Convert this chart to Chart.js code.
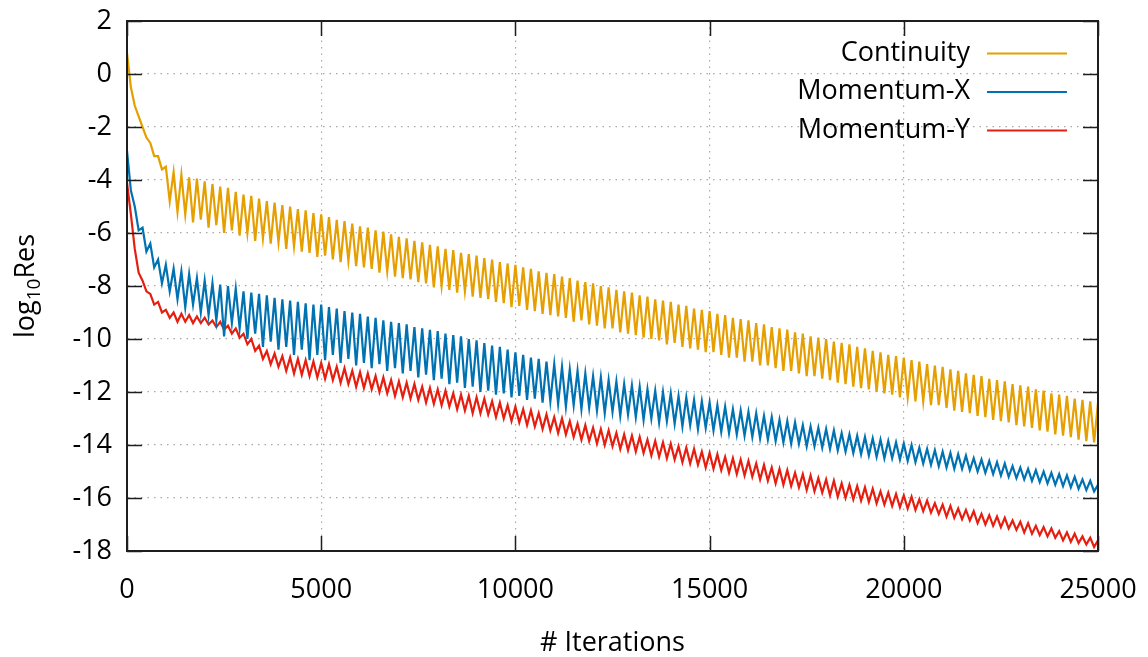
<!DOCTYPE html>
<html>
<head>
<title>Residuals</title>
<meta charset="utf-8">
<script src="https://cdn.jsdelivr.net/npm/chart.js@4.4.1/dist/chart.umd.min.js"></script>
<style>
  html, body { margin: 0; padding: 0; background: #ffffff; }
  #box { width: 1148px; height: 657px; }
</style>
</head>
<body>
<div id="box"><canvas id="resCanvas" width="1148" height="657"></canvas></div>
<script>
// iteration numbers of the samples (every 100 iterations)
const iterations = [
  0, 100, 200, 300, 400, 500, 600, 700, 800, 900,
  1000, 1100, 1200, 1300, 1400, 1500, 1600, 1700, 1800, 1900,
  2000, 2100, 2200, 2300, 2400, 2500, 2600, 2700, 2800, 2900,
  3000, 3100, 3200, 3300, 3400, 3500, 3600, 3700, 3800, 3900,
  4000, 4100, 4200, 4300, 4400, 4500, 4600, 4700, 4800, 4900,
  5000, 5100, 5200, 5300, 5400, 5500, 5600, 5700, 5800, 5900,
  6000, 6100, 6200, 6300, 6400, 6500, 6600, 6700, 6800, 6900,
  7000, 7100, 7200, 7300, 7400, 7500, 7600, 7700, 7800, 7900,
  8000, 8100, 8200, 8300, 8400, 8500, 8600, 8700, 8800, 8900,
  9000, 9100, 9200, 9300, 9400, 9500, 9600, 9700, 9800, 9900,
  10000, 10100, 10200, 10300, 10400, 10500, 10600, 10700, 10800, 10900,
  11000, 11100, 11200, 11300, 11400, 11500, 11600, 11700, 11800, 11900,
  12000, 12100, 12200, 12300, 12400, 12500, 12600, 12700, 12800, 12900,
  13000, 13100, 13200, 13300, 13400, 13500, 13600, 13700, 13800, 13900,
  14000, 14100, 14200, 14300, 14400, 14500, 14600, 14700, 14800, 14900,
  15000, 15100, 15200, 15300, 15400, 15500, 15600, 15700, 15800, 15900,
  16000, 16100, 16200, 16300, 16400, 16500, 16600, 16700, 16800, 16900,
  17000, 17100, 17200, 17300, 17400, 17500, 17600, 17700, 17800, 17900,
  18000, 18100, 18200, 18300, 18400, 18500, 18600, 18700, 18800, 18900,
  19000, 19100, 19200, 19300, 19400, 19500, 19600, 19700, 19800, 19900,
  20000, 20100, 20200, 20300, 20400, 20500, 20600, 20700, 20800, 20900,
  21000, 21100, 21200, 21300, 21400, 21500, 21600, 21700, 21800, 21900,
  22000, 22100, 22200, 22300, 22400, 22500, 22600, 22700, 22800, 22900,
  23000, 23100, 23200, 23300, 23400, 23500, 23600, 23700, 23800, 23900,
  24000, 24100, 24200, 24300, 24400, 24500, 24600, 24700, 24800, 24900,
  25000
];

// log10 of residuals (peaks and dips alternate)
const continuity = [
  0.8, -0.5, -1.2, -1.6, -2.0, -2.4, -2.6, -3.1, -3.1, -3.6,
  -3.5, -4.8, -3.7, -5.2, -3.8, -5.3, -3.9, -5.6, -3.95, -5.5,
  -4.05, -5.8, -4.15, -5.7, -4.25, -6.0, -4.3, -5.9, -4.45, -6.1,
  -4.55, -6.0, -4.6, -6.3, -4.7, -6.2, -4.8, -6.4, -4.85, -6.35,
  -4.95, -6.6, -5.0, -6.5, -5.1, -6.7, -5.15, -6.75, -5.25, -6.9,
  -5.3, -6.85, -5.4, -7.0, -5.5, -7.1, -5.55, -7.05, -5.65, -7.25,
  -5.75, -7.3, -5.8, -7.35, -5.9, -7.5, -5.95, -7.45, -6.05, -7.65,
  -6.15, -7.7, -6.2, -7.75, -6.3, -7.85, -6.35, -7.9, -6.45, -8.05,
  -6.5, -8.0, -6.6, -8.15, -6.65, -8.25, -6.75, -8.2, -6.8, -8.4,
  -6.85, -8.45, -6.95, -8.5, -7.0, -8.6, -7.1, -8.65, -7.15, -8.8,
  -7.2, -8.75, -7.3, -8.9, -7.35, -8.95, -7.45, -9.05, -7.5, -9.1,
  -7.55, -9.15, -7.65, -9.2, -7.7, -9.35, -7.8, -9.3, -7.85, -9.45,
  -7.9, -9.5, -8.0, -9.6, -8.05, -9.6, -8.15, -9.75, -8.2, -9.8,
  -8.25, -9.85, -8.35, -9.95, -8.4, -10.0, -8.5, -10.05, -8.55, -10.2,
  -8.6, -10.15, -8.7, -10.3, -8.75, -10.35, -8.85, -10.4, -8.9, -10.5,
  -8.95, -10.5, -9.05, -10.6, -9.1, -10.7, -9.2, -10.7, -9.25, -10.85,
  -9.3, -10.85, -9.4, -11.0, -9.45, -11.0, -9.55, -11.1, -9.6, -11.2,
  -9.65, -11.2, -9.75, -11.3, -9.8, -11.4, -9.9, -11.4, -9.95, -11.5,
  -10.0, -11.55, -10.1, -11.65, -10.15, -11.7, -10.2, -11.8, -10.3, -11.85,
  -10.35, -11.9, -10.45, -12.0, -10.5, -12.05, -10.6, -12.1, -10.65, -12.2,
  -10.7, -12.2, -10.8, -12.35, -10.85, -12.35, -10.95, -12.5, -11.0, -12.5,
  -11.05, -12.6, -11.15, -12.7, -11.2, -12.75, -11.3, -12.8, -11.35, -12.9,
  -11.4, -12.95, -11.5, -13.05, -11.55, -13.1, -11.6, -13.15, -11.7, -13.25,
  -11.75, -13.3, -11.8, -13.35, -11.9, -13.45, -11.95, -13.5, -12.05, -13.6,
  -12.1, -13.65, -12.15, -13.7, -12.25, -13.8, -12.3, -13.85, -12.35, -13.9,
  -12.4
];

const momentumX = [
  -2.9, -4.4, -5.0, -5.9, -5.8, -6.7, -6.4, -7.3, -7.0, -7.9,
  -7.2, -8.2, -7.35, -8.5, -7.45, -8.8, -7.55, -8.7, -7.7, -9.0,
  -7.8, -9.1, -7.9, -9.3, -7.95, -9.9, -8.0, -9.4, -8.1, -9.6,
  -8.2, -10.0, -8.25, -9.8, -8.3, -10.3, -8.35, -10.1, -8.45, -10.4,
  -8.5, -10.3, -8.55, -10.6, -8.6, -10.4, -8.65, -10.8, -8.7, -10.6,
  -8.7, -10.8, -8.8, -10.6, -8.85, -10.9, -8.95, -10.75, -9.0, -11.0,
  -9.05, -10.9, -9.15, -11.1, -9.2, -10.95, -9.3, -11.2, -9.35, -11.1,
  -9.4, -11.3, -9.45, -11.2, -9.55, -11.45, -9.6, -11.35, -9.65, -11.55,
  -9.7, -11.5, -9.8, -11.7, -9.85, -11.65, -9.9, -11.85, -10.0, -11.8,
  -10.05, -12.0, -10.15, -11.95, -10.25, -12.1, -10.3, -12.05, -10.4, -12.2,
  -10.5, -12.15, -10.6, -12.3, -10.7, -12.25, -10.75, -12.4, -10.85, -12.35,
  -10.95, -12.45, -11.05, -12.55, -11.15, -12.5, -11.2, -12.65, -11.3, -12.6,
  -11.4, -12.7, -11.45, -12.8, -11.55, -12.75, -11.6, -12.9, -11.7, -12.85,
  -11.75, -12.95, -11.8, -13.05, -11.9, -13.0, -11.95, -13.15, -12.0, -13.1,
  -12.05, -13.2, -12.15, -13.3, -12.2, -13.25, -12.3, -13.4, -12.35, -13.35,
  -12.4, -13.45, -12.5, -13.5, -12.55, -13.55, -12.65, -13.6, -12.7, -13.65,
  -12.75, -13.7, -12.8, -13.75, -12.9, -13.8, -12.95, -13.85, -13.05, -13.9,
  -13.1, -13.95, -13.15, -13.95, -13.25, -14.05, -13.3, -14.05, -13.35, -14.1,
  -13.4, -14.15, -13.45, -14.2, -13.55, -14.25, -13.6, -14.3, -13.65, -14.35,
  -13.7, -14.4, -13.75, -14.45, -13.8, -14.5, -13.85, -14.5, -13.9, -14.55,
  -13.95, -14.6, -14.0, -14.65, -14.1, -14.7, -14.15, -14.75, -14.2, -14.8,
  -14.25, -14.85, -14.3, -14.9, -14.35, -14.9, -14.4, -14.95, -14.5, -15.0,
  -14.55, -15.05, -14.6, -15.1, -14.65, -15.15, -14.7, -15.2, -14.8, -15.25,
  -14.85, -15.3, -14.9, -15.35, -14.95, -15.4, -15.0, -15.45, -15.05, -15.5,
  -15.1, -15.55, -15.15, -15.6, -15.2, -15.65, -15.3, -15.7, -15.35, -15.75,
  -15.5
];

const momentumY = [
  -4.1, -5.3, -6.6, -7.5, -7.8, -8.2, -8.3, -8.7, -8.6, -9.0,
  -8.9, -9.2, -9.0, -9.35, -9.05, -9.35, -9.1, -9.4, -9.15, -9.4,
  -9.2, -9.45, -9.3, -9.55, -9.35, -9.65, -9.5, -9.8, -9.6, -9.95,
  -9.8, -10.2, -10.0, -10.45, -10.25, -10.75, -10.45, -10.95, -10.55, -11.05,
  -10.65, -11.2, -10.7, -11.3, -10.75, -11.35, -10.8, -11.4, -10.85, -11.45,
  -10.9, -11.5, -10.95, -11.55, -11.05, -11.65, -11.1, -11.7, -11.2, -11.8,
  -11.25, -11.85, -11.3, -11.9, -11.4, -12.0, -11.45, -12.05, -11.55, -12.15,
  -11.6, -12.2, -11.65, -12.25, -11.7, -12.3, -11.8, -12.4, -11.85, -12.45,
  -11.9, -12.5, -11.95, -12.55, -12.05, -12.65, -12.1, -12.7, -12.15, -12.8,
  -12.2, -12.8, -12.25, -12.85, -12.35, -12.95, -12.4, -13.0, -12.5, -13.1,
  -12.55, -13.15, -12.65, -13.25, -12.7, -13.3, -12.8, -13.4, -12.85, -13.45,
  -12.95, -13.55, -13.0, -13.6, -13.1, -13.7, -13.2, -13.8, -13.25, -13.85,
  -13.35, -13.95, -13.4, -14.0, -13.45, -14.05, -13.55, -14.15, -13.6, -14.2,
  -13.65, -14.25, -13.7, -14.3, -13.8, -14.4, -13.85, -14.45, -13.9, -14.5,
  -13.95, -14.55, -14.05, -14.65, -14.1, -14.7, -14.15, -14.75, -14.25, -14.85,
  -14.3, -14.9, -14.35, -14.95, -14.45, -15.05, -14.5, -15.1, -14.55, -15.15,
  -14.6, -15.2, -14.7, -15.3, -14.75, -15.35, -14.85, -15.45, -14.9, -15.5,
  -14.95, -15.55, -15.05, -15.6, -15.1, -15.7, -15.15, -15.75, -15.25, -15.8,
  -15.3, -15.9, -15.35, -15.95, -15.45, -16.0, -15.5, -16.05, -15.55, -16.1,
  -15.6, -16.15, -15.65, -16.2, -15.75, -16.25, -15.8, -16.3, -15.85, -16.35,
  -15.9, -16.4, -15.95, -16.45, -16.05, -16.5, -16.1, -16.55, -16.2, -16.6,
  -16.25, -16.7, -16.3, -16.75, -16.4, -16.8, -16.45, -16.85, -16.5, -16.95,
  -16.6, -17.0, -16.65, -17.05, -16.7, -17.1, -16.75, -17.15, -16.85, -17.2,
  -16.9, -17.3, -16.95, -17.35, -17.05, -17.4, -17.1, -17.45, -17.15, -17.5,
  -17.25, -17.6, -17.3, -17.65, -17.35, -17.7, -17.45, -17.75, -17.5, -17.85,
  -17.6
];

const seriesNames = ['Continuity', 'Momentum-X', 'Momentum-Y'];
const seriesColors = ['#e69f00', '#0072b2', '#e51e10'];
const xTicks = [0, 5000, 10000, 15000, 20000, 25000];
const yTicks = [2, 0, -2, -4, -6, -8, -10, -12, -14, -16, -18];

const FONT = '"Open Sans", "Noto Sans", sans-serif';
const FONT_SIZE = 27;

function toPoints(values) {
  return values.map((v, i) => ({ x: iterations[i], y: v }));
}

// frame and inward ticks, gnuplot style
function drawFrame(chart) {
  const ctx = chart.ctx;
  const area = chart.chartArea;
  const xs = chart.scales.x;
  const ys = chart.scales.y;
  const tickLen = 15;

  ctx.save();
  ctx.setLineDash([]);
  ctx.globalAlpha = 1;
  ctx.globalCompositeOperation = 'source-over';
  ctx.strokeStyle = 'rgb(30,30,30)';
  ctx.lineWidth = 2;
  ctx.strokeRect(area.left, area.top, area.right - area.left, area.bottom - area.top);

  ctx.lineWidth = 1.5;
  ctx.beginPath();
  for (const t of yTicks) {
    const py = Math.round(ys.getPixelForValue(t)) + 0.5;
    ctx.moveTo(area.left, py);
    ctx.lineTo(area.left + tickLen, py);
    ctx.moveTo(area.right, py);
    ctx.lineTo(area.right - tickLen, py);
  }
  for (const t of xTicks) {
    const px = Math.round(xs.getPixelForValue(t)) + 0.5;
    ctx.moveTo(px, area.bottom);
    ctx.lineTo(px, area.bottom - tickLen);
    ctx.moveTo(px, area.top);
    ctx.lineTo(px, area.top + tickLen);
  }
  ctx.stroke();
  ctx.restore();
}

// key and axis titles
function drawTexts(chart) {
  const ctx = chart.ctx;
  const area = chart.chartArea;
  ctx.save();
  ctx.setLineDash([]);

  ctx.font = FONT_SIZE + 'px ' + FONT;
  ctx.textAlign = 'right';
  ctx.textBaseline = 'middle';
  chart.data.datasets.forEach((ds, i) => {
    const rowY = area.top + 32 + i * 38.5;
    ctx.fillStyle = '#000';
    ctx.fillText(ds.label, area.right - 128, rowY);
    ctx.strokeStyle = ds.borderColor;
    ctx.lineWidth = 2;
    ctx.beginPath();
    ctx.moveTo(area.right - 111, rowY + 0.5);
    ctx.lineTo(area.right - 31, rowY + 0.5);
    ctx.stroke();
  });

  ctx.fillStyle = '#000';
  ctx.textAlign = 'center';
  ctx.textBaseline = 'alphabetic';
  ctx.fillText('# Iterations', (area.left + area.right) / 2, 651);

  // log10Res, rotated, with a subscript
  ctx.translate(34, (area.top + area.bottom) / 2);
  ctx.rotate(-Math.PI / 2);
  const mainFont = FONT_SIZE + 'px ' + FONT;
  const subFont = '19px ' + FONT;
  ctx.font = mainFont;
  const w1 = ctx.measureText('log').width;
  const w3 = ctx.measureText('Res').width;
  ctx.font = subFont;
  const w2 = ctx.measureText('10').width;
  const x0 = -(w1 + w2 + w3) / 2;
  ctx.textAlign = 'left';
  ctx.font = mainFont;
  ctx.fillText('log', x0, 0);
  ctx.font = subFont;
  ctx.fillText('10', x0 + w1, 6);
  ctx.font = mainFont;
  ctx.fillText('Res', x0 + w1 + w2, 0);
  ctx.restore();
}

const gnuplotLook = {
  id: 'gnuplotLook',
  afterDraw(chart) {
    drawFrame(chart);
    drawTexts(chart);
  }
};

const ctxRes = document.getElementById('resCanvas').getContext('2d');

const chart = new Chart(ctxRes, {
  type: 'line',
  data: {
    datasets: [
      { label: seriesNames[0], data: toPoints(continuity), borderColor: seriesColors[0] },
      { label: seriesNames[1], data: toPoints(momentumX), borderColor: seriesColors[1] },
      { label: seriesNames[2], data: toPoints(momentumY), borderColor: seriesColors[2] }
    ]
  },
  options: {
    responsive: false,
    animation: false,
    parsing: false,
    normalized: true,
    datasets: {
      line: { borderWidth: 2.2, pointRadius: 0, tension: 0, fill: false }
    },
    layout: {
      autoPadding: false,
      padding: { top: 21, right: 50, left: 0, bottom: 0 }
    },
    plugins: {
      legend: { display: false },
      tooltip: { enabled: false }
    },
    scales: {
      x: {
        type: 'linear',
        min: 0,
        max: 25000,
        afterBuildTicks: (scale) => { scale.ticks = xTicks.map(v => ({ value: v })); },
        afterFit: (scale) => {
          scale.height = 106;
          scale.paddingLeft = 0;
          scale.paddingRight = 0;
        },
        ticks: {
          color: '#000',
          font: { family: FONT, size: FONT_SIZE },
          padding: 23,
          maxRotation: 0,
          callback: (v) => String(v)
        },
        grid: { color: '#a8a8a8', lineWidth: 1.2, drawTicks: false },
        border: { display: true, color: 'rgb(30,30,30)', width: 2, dash: [1.5, 5] }
      },
      y: {
        type: 'linear',
        min: -18,
        max: 2,
        afterBuildTicks: (scale) => { scale.ticks = yTicks.map(v => ({ value: v })); },
        afterFit: (scale) => {
          scale.width = 127;
          scale.paddingTop = 0;
          scale.paddingBottom = 0;
        },
        ticks: {
          color: '#000',
          font: { family: FONT, size: FONT_SIZE },
          padding: 15,
          callback: (v) => String(v)
        },
        grid: { color: '#a8a8a8', lineWidth: 1.2, drawTicks: false },
        border: { display: true, color: 'rgb(30,30,30)', width: 2, dash: [1.5, 5] }
      }
    }
  },
  plugins: [gnuplotLook]
});

// draw once more after fonts are in, so the frame ends on top
document.fonts.ready.then(() => chart.draw());
</script>
</body>
</html>
